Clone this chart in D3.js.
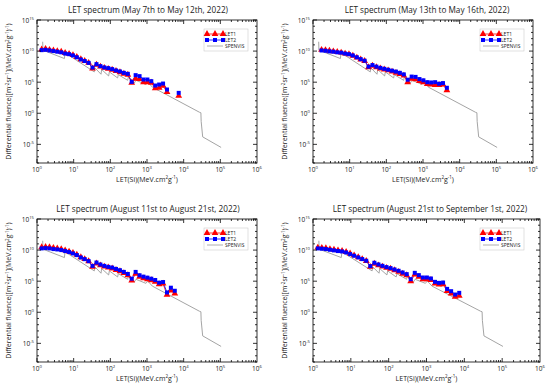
<!DOCTYPE html>
<html><head><meta charset="utf-8">
<script src="https://cdn.jsdelivr.net/npm/d3@7"></script>
<style>body{margin:0;background:#fff}svg{display:block}text{font-family:"Open Sans",sans-serif;fill:#222}</style>
</head><body><svg id="c" width="550" height="387"></svg>
<script>
// LET bins (MeV.cm2/g)
const letBins = [1.34,1.71,2.19,2.80,3.58,4.58,5.86,7.50,9.57,12.2,15.7,20.0,25.6,32.7,41.9,53.6,68.5,87.7,112,143,183,234,300,383,490,627,802,1026,1310,1675,2143,2742,3508,4480,5730,7330];

const titles = [
  "LET spectrum (May 7th to May 12th, 2022)",
  "LET spectrum (May 13th to May 16th, 2022)",
  "LET spectrum (August 11st to August 21st, 2022)",
  "LET spectrum (August 21st to September 1st, 2022)"
];

const let1_p1 = [1.78e10,2.24e10,1.58e10,1.26e10,1.0e10,7.94e9,5.01e9,3.55e9,2.24e9,1.12e9,5.01e8,2.51e8,1.26e8,1.58e7,6.31e7,3.16e7,2.0e7,1.41e7,1.0e7,6.31e6,3.98e6,2.24e6,1.58e6,7.94e4,3.55e5,3.16e5,1.0e5,1.0e5,7.94e4,1.0e4,1.26e4,2.51e4,2.51e3,null,null,6.31e2];
const let2_p1 = [1.41e10,1.58e10,1.26e10,1.0e10,7.94e9,6.31e9,3.98e9,3.16e9,2.0e9,1.0e9,4.47e8,2.51e8,1.26e8,2.24e7,7.94e7,3.8e7,2.34e7,1.82e7,1.26e7,7.6e6,5.25e6,3.16e6,2.19e6,1.12e5,1.35e6,9.33e5,2.69e5,2.69e5,1.45e5,2.88e4,4.17e4,6.03e4,6.6e3,null,null,1.9e3];

const let1_p2 = [null,1.58e10,1.41e10,1.12e10,8.91e9,7.08e9,5.62e9,3.98e9,3.16e9,1.78e9,8.91e8,4.47e8,2.51e8,2.51e7,4.47e7,2.51e7,1.58e7,1.12e7,7.94e6,5.01e6,3.16e6,2.0e6,1.12e6,1.0e5,3.55e5,2.82e5,1.58e5,1.0e5,5.01e4,3.98e4,3.55e4,3.55e4,3.98e4,5.01e3];
const let2_p2 = [null,1.26e10,1.12e10,8.91e9,7.94e9,6.31e9,5.62e9,3.98e9,3.16e9,2.0e9,1.0e9,5.01e8,2.82e8,3.16e7,5.62e7,3.16e7,2.0e7,1.41e7,1.0e7,7.08e6,5.01e6,3.16e6,1.78e6,2.51e5,7.94e5,7.08e5,3.16e5,2.0e5,1.0e5,8.91e4,1.0e5,5.62e4,7.08e4,1.26e4];

const let1_p3 = [2.82e10,3.16e10,2.82e10,2.24e10,1.78e10,1.41e10,8.91e9,5.62e9,3.55e9,1.78e9,7.08e8,3.55e8,1.58e8,2.0e7,7.08e7,3.55e7,2.24e7,1.58e7,1.12e7,6.31e6,3.98e6,2.0e6,8.91e5,1.26e5,1.58e6,5.01e5,2.82e5,2.0e5,1.41e5,7.94e4,3.16e4,3.98e4,6.31e2,3.16e3,1.0e3];
const let2_p3 = [1.86e10,2.09e10,1.86e10,1.45e10,1.26e10,1.0e10,6.92e9,4.79e9,2.88e9,1.55e9,6.46e8,3.47e8,1.66e8,2.88e7,1.0e8,4.79e7,2.88e7,2.0e7,1.55e7,9.33e6,5.75e6,3.09e6,1.45e6,2.51e5,3.09e6,8.91e5,5.37e5,3.72e5,2.51e5,1.55e5,5.75e4,7.24e4,1.55e3,8.91e3,2.88e3];

const let1_p4 = [2.51e10,2.24e10,2.0e10,1.41e10,1.12e10,8.91e9,7.08e9,5.01e9,2.82e9,1.41e9,7.08e8,3.55e8,1.78e8,2.0e7,6.31e7,3.55e7,2.24e7,1.41e7,1.0e7,5.62e6,3.16e6,1.58e6,8.91e5,1.0e5,1.12e6,5.01e5,2.0e5,2.0e5,1.58e5,3.98e4,2.82e4,3.16e4,2.51e3,1.0e3,3.16e2,4.47e2];
const let2_p4 = [1.86e10,1.66e10,1.45e10,1.12e10,8.91e9,6.92e9,6.03e9,4.17e9,2.24e9,1.23e9,6.61e8,3.55e8,1.91e8,2.63e7,9.12e7,4.9e7,2.95e7,1.82e7,1.26e7,7.59e6,4.68e6,2.51e6,1.35e6,2.09e5,2.19e6,9.33e5,3.89e5,3.89e5,2.69e5,7.76e4,5.37e4,6.03e4,5.75e3,2.45e3,7.08e2,1.32e3];

// SPENVIS model curve
const spenvisLET  = [1.43,1.45,5.6,5.8,36.5,37.5,55.6,58,90,94,158,165,297,310,450,500,935,1050,1400,27000,29500,30000,33000,105000];
const spenvisFlux = [3.2e11,1.4e10,6.3e8,5.4e9,4.5e6,2.2e7,1.9e6,1.07e7,1.0e6,4.5e6,4.8e5,1.6e6,2.0e5,7.0e5,7.2e4,2.0e5,4.5e4,1.07e5,1.6e4,1.45,1.2,0.05,1.6e-4,3.2e-6];

const xTickVals = [1,10,100,1e3,1e4,1e5,1e6];
const xTickExp = ["0","1","2","3","4","5","6"];
const yTickVals = [1e15,1e10,1e5,1,1e-5];
const yTickExp = ["15","10","5","0","-5"];

const let1 = [let1_p1,let1_p2,let1_p3,let1_p4];
const let2 = [let2_p1,let2_p2,let2_p3,let2_p4];
const boxes = [
  {x0:37,x1:257,y0:20,y1:163,tx:148,ty:11},
  {x0:313,x1:533,y0:20,y1:163,tx:427,ty:11},
  {x0:37,x1:257,y0:219,y1:362,tx:148,ty:210},
  {x0:313,x1:540,y0:219,y1:362,tx:430,ty:210}
];

const svg = d3.select("#c");

boxes.forEach((b,i)=>{
  const g = svg.append("g");
  const x = d3.scaleLog().domain([1,1e6]).range([b.x0,b.x1]);
  const y = d3.scaleLog().domain([1e-8,1e15]).range([b.y1,b.y0]);

  // title
  g.append("text").attr("x",b.tx).attr("y",b.ty).attr("text-anchor","middle")
    .attr("dominant-baseline","middle").attr("font-size",8.2).text(titles[i]);

  // SPENVIS
  const spData = spenvisLET.map((v,j)=>[v,spenvisFlux[j]]);
  g.append("path").datum(spData).attr("fill","none").attr("stroke","#9a9a9a").attr("stroke-width",0.9)
    .attr("d",d3.line().x(d=>x(d[0])).y(d=>y(d[1])));

  const mk = (arr)=>arr.map((v,j)=>[letBins[j],v]);
  const d1 = mk(let1[i]), d2 = mk(let2[i]);
  const line = d3.line().defined(d=>d[1]!=null).x(d=>x(d[0])).y(d=>y(d[1]));
  g.append("path").datum(d1).attr("fill","none").attr("stroke","#ff0000").attr("stroke-width",0.8).attr("d",line);
  g.append("path").datum(d2).attr("fill","none").attr("stroke","#0000ff").attr("stroke-width",0.8).attr("d",line);
  const tri = d3.symbol().type(d3.symbolTriangle).size(20);
  const sq = d3.symbol().type(d3.symbolSquare).size(16);
  g.selectAll(".t").data(d1.filter(d=>d[1]!=null)).join("path")
    .attr("transform",d=>`translate(${x(d[0])},${y(d[1])})`).attr("d",tri).attr("fill","#ff0000");
  g.selectAll(".s").data(d2.filter(d=>d[1]!=null)).join("path")
    .attr("transform",d=>`translate(${x(d[0])},${y(d[1])})`).attr("d",sq).attr("fill","#0000ff");

  // frame & ticks
  const ax = g.append("g").attr("stroke","#000").attr("stroke-width",0.8);
  ax.append("rect").attr("x",b.x0).attr("y",b.y0).attr("width",b.x1-b.x0).attr("height",b.y1-b.y0).attr("fill","none");
  const xt = [];
  for (let e=0;e<6;e++) for (let m=1;m<10;m++) xt.push([m*Math.pow(10,e), m===1]);
  xt.forEach(([v,maj])=>{
    const L = maj?4:2;
    ax.append("line").attr("x1",x(v)).attr("x2",x(v)).attr("y1",b.y1).attr("y2",b.y1-L);
    ax.append("line").attr("x1",x(v)).attr("x2",x(v)).attr("y1",b.y0).attr("y2",b.y0+L);
  });
  for (let e=-8;e<=15;e++){
    const v = Math.pow(10,e), L = (e%5===0)?4:2;
    ax.append("line").attr("x1",b.x0).attr("x2",b.x0+L).attr("y1",y(v)).attr("y2",y(v));
    ax.append("line").attr("x1",b.x1).attr("x2",b.x1-L).attr("y1",y(v)).attr("y2",y(v));
  }

  // tick labels
  xTickVals.forEach((v,j)=>{
    const t = g.append("text").attr("x",x(v)).attr("y",b.y1+8.5).attr("text-anchor","middle").attr("font-size",6.5);
    t.append("tspan").text("10");
    t.append("tspan").attr("dy",-3).attr("font-size",4.2).text(xTickExp[j]);
  });
  yTickVals.forEach((v,j)=>{
    const t = g.append("text").attr("x",b.x0-3).attr("y",y(v)+2.5).attr("text-anchor","end").attr("font-size",6.5);
    t.append("tspan").text("10");
    t.append("tspan").attr("dy",-3).attr("font-size",4.2).text(yTickExp[j]);
  });

  // axis titles
  const xl = g.append("text").attr("x",(b.x0+b.x1)/2).attr("y",b.y1+18.5).attr("text-anchor","middle").attr("font-size",7);
  xl.append("tspan").text("LET(Si)(MeV.cm");
  xl.append("tspan").attr("dy",-2.5).attr("font-size",4.5).text("2");
  xl.append("tspan").attr("dy",2.5).text("g");
  xl.append("tspan").attr("dy",-2.5).attr("font-size",4.5).text("-1");
  xl.append("tspan").attr("dy",2.5).text(")");

  const yl = g.append("text").attr("transform",`translate(${b.x0-26},${(b.y0+b.y1)/2}) rotate(-90)`)
    .attr("text-anchor","middle").attr("font-size",7);
  yl.append("tspan").text("Differential fluence([m");
  yl.append("tspan").attr("dy",-2.5).attr("font-size",4.5).text("-2");
  yl.append("tspan").attr("dy",2.5).text("sr");
  yl.append("tspan").attr("dy",-2.5).attr("font-size",4.5).text("-1");
  yl.append("tspan").attr("dy",2.5).text("](MeV.cm");
  yl.append("tspan").attr("dy",-2.5).attr("font-size",4.5).text("2");
  yl.append("tspan").attr("dy",2.5).text("g");
  yl.append("tspan").attr("dy",-2.5).attr("font-size",4.5).text("-1");
  yl.append("tspan").attr("dy",2.5).text(")");
  yl.append("tspan").attr("dy",-2.5).attr("font-size",4.5).text("-1");
  yl.append("tspan").attr("dy",2.5).text(")");

  // legend
  const lx = b.x0+167, ly = b.y0+9;
  const lg = g.append("g");
  lg.append("rect").attr("x",lx).attr("y",ly).attr("width",44).attr("height",22).attr("fill","#fff").attr("stroke","#ccc").attr("stroke-width",0.6);
  const rows = [{c:"#ff0000",s:tri,n:"LET1"},{c:"#0000ff",s:sq,n:"LET2"},{c:"#9a9a9a",s:null,n:"SPENVIS"}];
  rows.forEach((r,j)=>{
    const yy = ly+5+j*6;
    lg.append("line").attr("x1",lx+3).attr("x2",lx+19).attr("y1",yy).attr("y2",yy).attr("stroke",r.c).attr("stroke-width",0.8);
    if (r.s) [lx+3,lx+11,lx+19].forEach(px=>lg.append("path").attr("transform",`translate(${px},${yy})`).attr("d",r.s).attr("fill",r.c));
    lg.append("text").attr("x",lx+21).attr("y",yy+1.8).attr("font-size",5).text(r.n);
  });
});
</script></body></html>
